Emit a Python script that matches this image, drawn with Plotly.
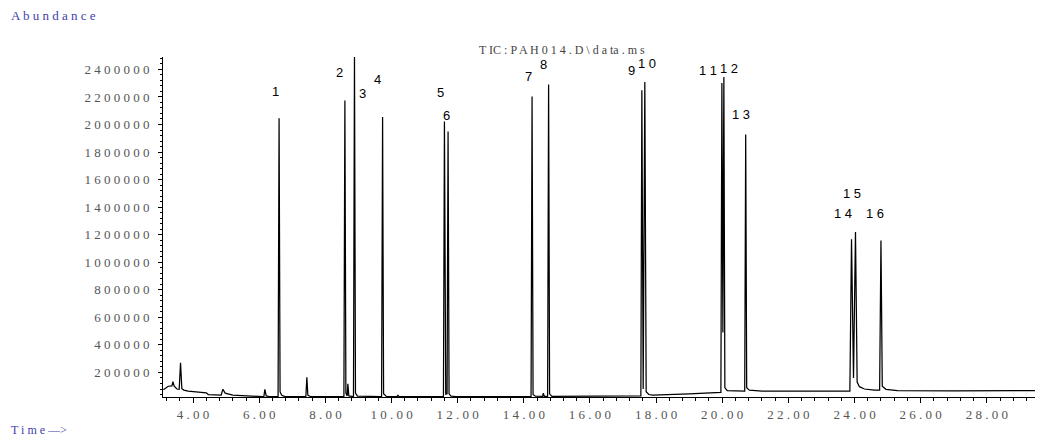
import plotly.graph_objects as go

# ---- data (retention time in min, abundance) ----
time_min = [
    3.10, 3.25, 3.36, 3.39, 3.43, 3.51, 3.58, 3.62, 3.66, 3.72, 3.85, 4.40, 4.46, 4.85, 4.90, 4.97,
    5.20, 5.70, 6.10, 6.14, 6.17, 6.21, 6.30, 6.57, 6.60, 6.63, 6.68, 6.78, 7.41, 7.44, 7.47, 7.55,
    8.56, 8.59, 8.62, 8.66, 8.68, 8.71, 8.85, 8.88, 8.91, 8.97, 9.70, 9.73, 9.76, 9.85, 10.17, 10.19,
    10.22, 11.57, 11.60, 11.64, 11.68, 11.71, 11.74, 11.80, 11.95, 14.22, 14.25, 14.28, 14.35, 14.57,
    14.59, 14.62, 14.72, 14.75, 14.78, 14.85, 16.00, 17.40, 17.54, 17.57, 17.61, 17.66, 17.70, 17.78,
    17.90, 19.00, 19.90, 19.96, 19.99, 20.02, 20.05, 20.08, 20.15, 20.40, 20.68, 20.71, 20.74, 20.82,
    21.20, 23.00, 23.86, 23.91, 23.97, 24.03, 24.08, 24.15, 24.30, 24.60, 24.76, 24.80, 24.84, 24.95,
    25.30, 27.00, 29.70,
]
abundance = [
    75000, 100000, 102000, 133000, 100000, 80000, 78000, 270000, 82000, 72000, 64000, 52000, 40000, 36000, 78000, 50000,
    36000, 27000, 25000, 25000, 78000, 30000, 25000, 25000, 2045000, 60000, 35000, 25000, 25000, 166000, 35000, 25000,
    25000, 2175000, 50000, 30000, 118000, 30000, 25000, 2500000, 50000, 28000, 25000, 2054000, 45000, 25000, 25000, 36000,
    25000, 25000, 2022000, 42000, 45000, 1950000, 45000, 28000, 25000, 25000, 2204000, 40000, 28000, 27000,
    50000, 27000, 26000, 2291000, 45000, 27000, 27000, 30000, 31000, 2248000, 80000, 2308000, 60000, 40000,
    36000, 45000, 55000, 56000, 2301000, 490000, 2344000, 90000, 68000, 64000, 64000, 1927000, 90000, 72000,
    65000, 64000, 65000, 1167000, 160000, 1220000, 130000, 97000, 80000, 72000, 72000, 1158000, 100000, 78000,
    68000, 66000, 68000,
]

# peak numbers and where their labels sit (data coordinates)
peak_labels = ["1", "2", "3", "4", "5", "6", "7", "8", "9", "1 0", "1 1", "1 2", "1 3", "1 4", "1 5", "1 6"]
label_time = [6.48, 8.44, 9.11, 9.59, 11.47, 11.65, 14.13, 14.61, 17.27, 17.72, 19.57, 20.22, 20.56, 23.65, 23.92, 24.62]
label_abund = [2240000, 2379000, 2226000, 2328000, 2233000, 2067000, 2350000, 2437000, 2393000, 2444000,
               2393000, 2408000, 2073000, 1355000, 1500000, 1355000]

x_tick_vals = [4, 6, 8, 10, 12, 14, 16, 18, 20, 22, 24, 26, 28]
x_tick_text = [" ".join(f"{v:.2f}") for v in x_tick_vals]
y_tick_vals = [200000, 400000, 600000, 800000, 1000000, 1200000, 1400000, 1600000,
               1800000, 2000000, 2200000, 2400000]
y_tick_text = [" ".join(str(v)) for v in y_tick_vals]

title_text = "T IC : P A H 0 1 4 . D \\ d a ta . m s"

fig = go.Figure()
fig.add_trace(go.Scatter(
    x=time_min, y=abundance, mode="lines",
    line=dict(color="black", width=1.25),
    hoverinfo="skip", showlegend=False,
))

tick_font = dict(family="Liberation Serif", size=13, color="#555555")

# page body has an 8px default margin, so the figure is sized/margined to land the
# plot area on the reference's pixel positions
fig.update_layout(
    width=1035, height=430,
    margin=dict(l=155, r=0, t=49, b=41),
    paper_bgcolor="white", plot_bgcolor="white",
    showlegend=False,
    xaxis=dict(
        range=[3.09, 29.7], showgrid=False, zeroline=False,
        showline=True, linecolor="black", linewidth=1,
        ticks="outside", ticklen=5, tickwidth=1, tickcolor="black",
        tickvals=x_tick_vals, ticktext=x_tick_text, tickfont=tick_font,
        minor=dict(ticks="outside", dtick=0.4, tick0=0, ticklen=3, tickwidth=1, tickcolor="black"),
    ),
    yaxis=dict(
        range=[22000, 2490000], showgrid=False, zeroline=False,
        showline=True, linecolor="black", linewidth=1,
        ticks="outside", ticklen=4, tickwidth=1, tickcolor="black",
        tickvals=y_tick_vals, ticktext=y_tick_text, tickfont=tick_font,
        ticklabelstandoff=6,
        minor=dict(ticks="outside", dtick=40000, tick0=0, ticklen=2, tickwidth=1, tickcolor="black"),
    ),
)

annotations = []
for txt, t, a in zip(peak_labels, label_time, label_abund):
    annotations.append(dict(
        x=t, y=a, xref="x", yref="y", text=txt, showarrow=False,
        font=dict(family="Liberation Sans", size=13, color="black"),
        xanchor="center", yanchor="middle",
    ))

annotations.append(dict(
    x=0.4534, y=1.021, xref="paper", yref="paper", text=title_text, showarrow=False,
    font=dict(family="Liberation Serif", size=12, color="#444444"),
    xanchor="center", yanchor="middle",
))
annotations.append(dict(
    x=-0.174, y=1.123, xref="paper", yref="paper", text="A b u n d a n c e", showarrow=False,
    font=dict(family="Liberation Serif", size=13, color="#4040b0"),
    xanchor="left", yanchor="middle", borderpad=0,
))
annotations.append(dict(
    x=-0.174, y=-0.097, xref="paper", yref="paper", text="T i m e —>", showarrow=False,
    font=dict(family="Liberation Serif", size=12, color="#4040b0"),
    xanchor="left", yanchor="middle", borderpad=0,
))
fig.update_layout(annotations=annotations)

fig.write_html("out.html")
